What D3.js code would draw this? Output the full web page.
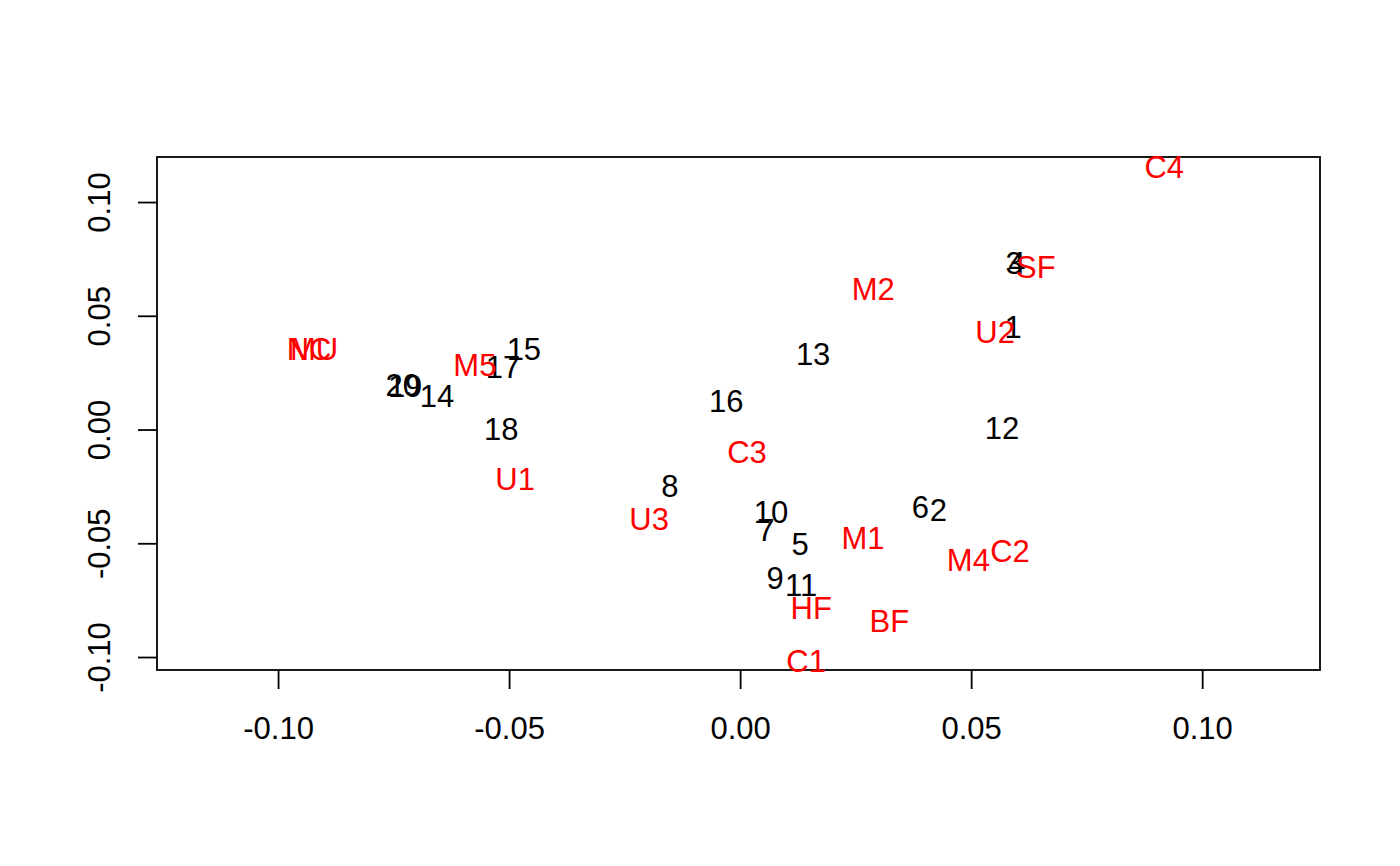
<!DOCTYPE html>
<html><head><meta charset="utf-8">
<script src="https://cdn.jsdelivr.net/npm/d3@7"></script>
<style>body{margin:0;background:#fff;} svg{display:block;}</style>
</head><body>
<svg id="chart" width="1400" height="866"></svg>
<script>
const blackLabels = ["1","2","3","4","5","6","7","8","9","10","11","12","13","14","15","16","17","18","19","20"];
const blackX = [0.0591,0.0429,0.0593,0.0599,0.0130,0.0390,0.0056,-0.0152,0.0076,0.0067,0.0132,0.0567,0.0158,-0.0656,-0.0468,-0.0030,-0.0513,-0.0517,-0.0725,-0.0730];
const blackY = [0.0451,-0.0354,0.0732,0.0732,-0.0503,-0.0341,-0.0442,-0.0248,-0.0653,-0.0363,-0.0684,0.0007,0.0332,0.0147,0.0354,0.0125,0.0275,0.0002,0.0191,0.0196];
const redLabels = ["C1","C2","C3","C4","M1","M2","M4","M5","U1","U2","U3","HF","BF","SF","NC","MU"];
const redX = [0.0143,0.0584,0.0015,0.0918,0.0266,0.0288,0.0494,-0.0574,-0.0487,0.0552,-0.0197,0.0154,0.0323,0.0640,-0.0933,-0.0922];
const redY = [-0.1016,-0.0534,-0.0099,0.1153,-0.0477,0.0618,-0.0574,0.0284,-0.0218,0.0429,-0.0393,-0.0785,-0.0842,0.0714,0.0354,0.0354];
const xTicks = [-0.10,-0.05,0.00,0.05,0.10];
const yTicks = [-0.10,-0.05,0.00,0.05,0.10];
const tickLabels = ["-0.10","-0.05","0.00","0.05","0.10"];

const svg = d3.select("#chart");
const L = 157, R = 1320, T = 157, B = 670;
const FS = 31;
const font = "'Liberation Sans', Arial, sans-serif";
const x = d3.scaleLinear().domain([-0.1262, 0.1255]).range([L, R]);
const y = d3.scaleLinear().domain([-0.1057, 0.1198]).range([B, T]);

// box
svg.append("rect").attr("x", L).attr("y", T).attr("width", R - L).attr("height", B - T)
  .attr("fill", "none").attr("stroke", "#000").attr("stroke-width", 1.8);

// x axis
const xa = svg.append("g").attr("transform", `translate(0,${B})`)
  .call(d3.axisBottom(x).tickValues(xTicks).tickSize(19).tickPadding(0)
    .tickFormat((d, i) => tickLabels[i]));
xa.select(".domain").remove();
xa.selectAll("line").attr("stroke", "#000").attr("stroke-width", 1.8);
xa.selectAll("text").attr("font-family", font).attr("font-size", FS).attr("fill", "#000")
  .attr("y", 739 - B).attr("dy", null).attr("dominant-baseline", "alphabetic");

// y axis
const ya = svg.append("g").attr("transform", `translate(${L},0)`)
  .call(d3.axisLeft(y).tickValues(yTicks).tickSize(19).tickPadding(0)
    .tickFormat((d, i) => tickLabels[i]));
ya.select(".domain").remove();
ya.selectAll("line").attr("stroke", "#000").attr("stroke-width", 1.8);
ya.selectAll("text").attr("font-family", font).attr("font-size", FS).attr("fill", "#000")
  .attr("x", null).attr("dy", null).attr("text-anchor", "middle").attr("dominant-baseline", "alphabetic")
  .attr("transform", `translate(${110 - L},0) rotate(-90)`);

// labels
function drawLabels(labels, xs, ys, color) {
  svg.append("g").selectAll("text").data(labels).join("text")
    .attr("x", (d, i) => x(xs[i]))
    .attr("y", (d, i) => y(ys[i]) + 0.358 * FS)
    .attr("text-anchor", "middle")
    .attr("font-family", font).attr("font-size", FS)
    .attr("fill", color).text(d => d);
}
drawLabels(blackLabels, blackX, blackY, "#000");
drawLabels(redLabels, redX, redY, "#FF0000");
</script>
</body></html>
